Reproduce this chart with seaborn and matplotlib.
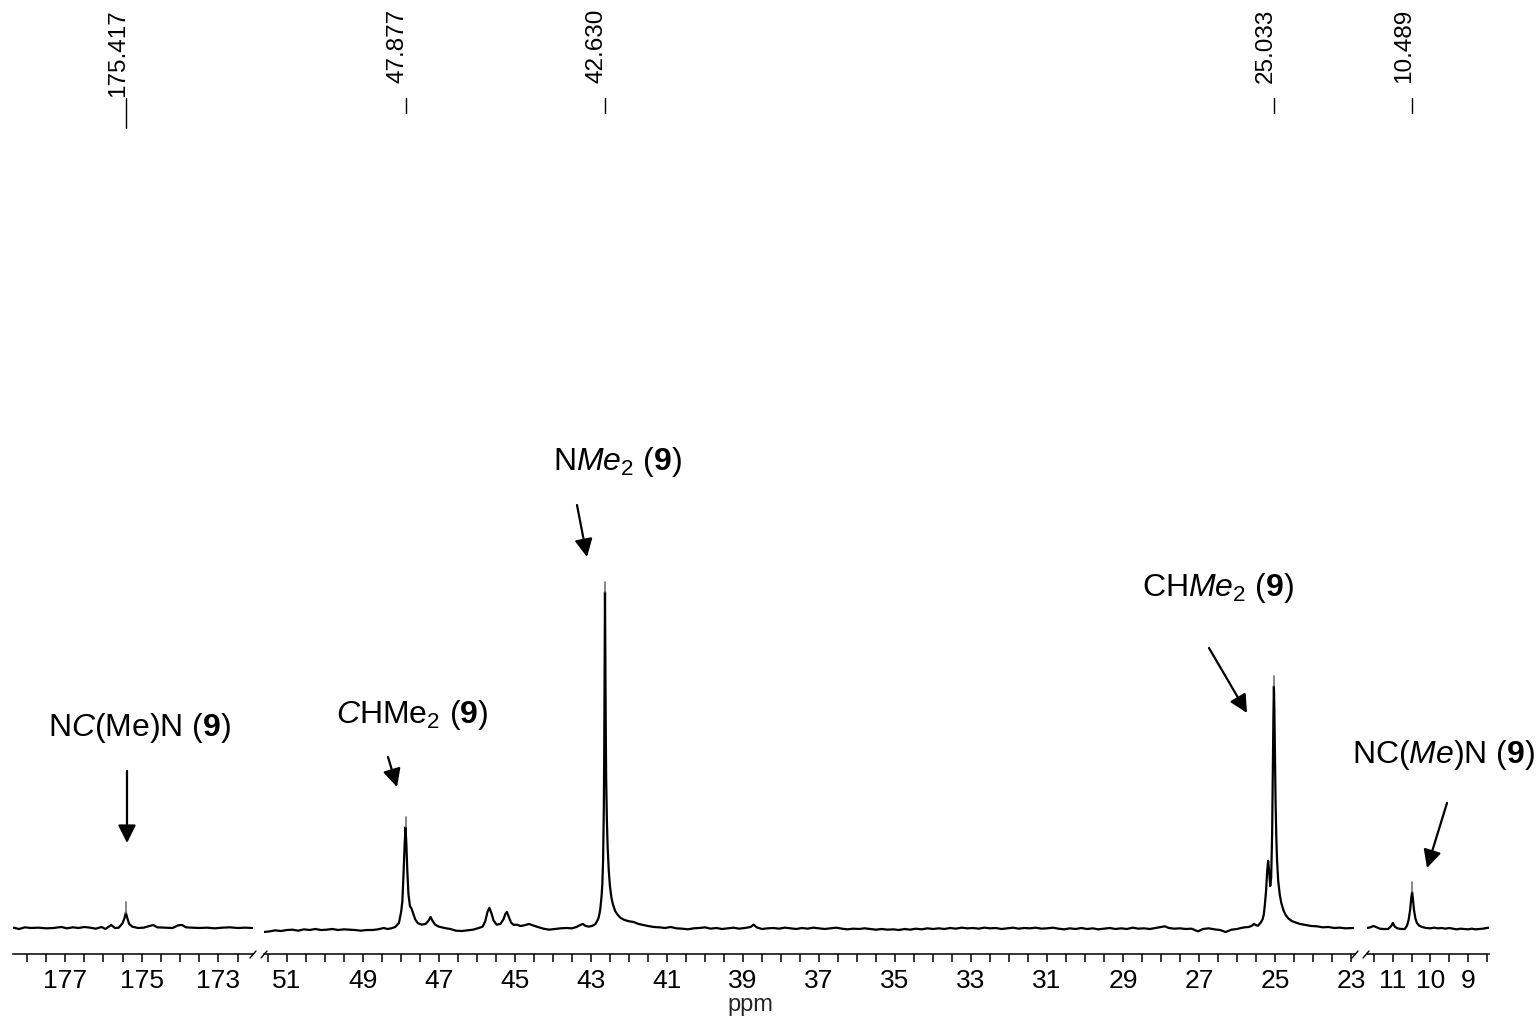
import numpy as np
import matplotlib
matplotlib.use("Agg")
import matplotlib.pyplot as plt
import matplotlib.transforms as mtransforms
from matplotlib.lines import Line2D
import seaborn as sns

# ---------------- data ----------------
left_ppm = [178.35, 178.2, 178.05, 177.9, 177.7, 177.5, 177.3, 177.1, 176.95, 176.8,
            176.65, 176.5, 176.35, 176.2, 176.05, 175.95, 175.8, 175.7, 175.6, 175.5,
            175.45, 175.417, 175.38, 175.33, 175.25, 175.1, 174.95, 174.8, 174.7, 174.6,
            174.4, 174.2, 174.05, 173.95, 173.85, 173.7, 173.5, 173.3, 173.1, 172.9,
            172.7, 172.5, 172.3, 172.12]
left_int = [0.1, -0.3, 0.2, 0.0, 0.1, -0.1, 0.0, 0.3, -0.1, 0.2,
            0.0, 0.3, 0.1, -0.2, 0.3, -0.3, 0.9, 0.0, 0.1, 1.5,
            3.0, 4.6, 3.0, 1.2, 0.4, 0.0, 0.1, 0.6, 0.9, 0.2,
            0.1, 0.0, 0.8, 0.9, 0.2, 0.1, 0.0, 0.1, -0.1, 0.1,
            0.2, 0.0, 0.1, 0.0]

mid_ppm = [51.60, 51.45, 51.30, 51.15, 51.00, 50.85, 50.70, 50.55, 50.40, 50.25,
           50.10, 49.95, 49.80, 49.65, 49.50, 49.35, 49.20, 49.05, 48.90, 48.75,
           48.60, 48.45, 48.35, 48.25, 48.15, 48.05, 47.99, 47.96, 47.93, 47.90,
           47.877, 47.855, 47.83, 47.80, 47.76, 47.72, 47.68, 47.62, 47.55, 47.45,
           47.35, 47.27, 47.22, 47.17, 47.10, 47.00, 46.85, 46.70, 46.55, 46.40,
           46.25, 46.10, 45.95, 45.85, 45.78, 45.72, 45.67, 45.62, 45.56, 45.48,
           45.38, 45.30, 45.25, 45.21, 45.16, 45.10, 45.03, 44.95, 44.85, 44.75,
           44.63, 44.50, 44.40, 44.25, 44.10, 43.95, 43.80, 43.65, 43.50, 43.38,
           43.28, 43.21, 43.14, 43.05, 42.95, 42.88, 42.83, 42.80, 42.77, 42.75,
           42.72, 42.70, 42.68, 42.66, 42.65, 42.64, 42.63, 42.62, 42.61, 42.60,
           42.58, 42.56, 42.53, 42.50, 42.46, 42.42, 42.36, 42.30, 42.22, 42.12,
           42.00, 41.88, 41.75, 41.63, 41.50, 41.35, 41.20, 41.05, 40.90, 40.75,
           40.60, 40.45, 40.30, 40.15, 40.00, 39.85, 39.70, 39.55, 39.40, 39.25,
           39.10, 38.95, 38.80, 38.72, 38.64, 38.50, 38.35, 38.20, 38.05, 37.90,
           37.75, 37.60, 37.45, 37.30, 37.15, 37.00, 36.85, 36.70, 36.55, 36.40,
           36.25, 36.10, 35.95, 35.80, 35.65, 35.50, 35.35, 35.20, 35.05, 34.90,
           34.75, 34.60, 34.45, 34.30, 34.15, 34.00, 33.85, 33.70, 33.55, 33.40,
           33.25, 33.10, 32.95, 32.80, 32.65, 32.50, 32.35, 32.20, 32.05, 31.90,
           31.75, 31.60, 31.45, 31.30, 31.15, 31.00, 30.85, 30.70, 30.55, 30.40,
           30.25, 30.10, 29.95, 29.80, 29.65, 29.50, 29.35, 29.20, 29.05, 28.90,
           28.75, 28.60, 28.45, 28.30, 28.15, 28.00, 27.90, 27.80, 27.65, 27.50,
           27.35, 27.20, 27.03, 26.90, 26.75, 26.60, 26.45, 26.30, 26.15, 26.00,
           25.90, 25.80, 25.70, 25.62, 25.56, 25.50, 25.45, 25.38, 25.33, 25.30,
           25.27, 25.24, 25.21, 25.185, 25.16, 25.13, 25.105, 25.08, 25.06, 25.045,
           25.033, 25.02, 25.005, 24.99, 24.97, 24.95, 24.92, 24.88, 24.84, 24.78,
           24.72, 24.65, 24.55, 24.45, 24.35, 24.20, 24.05, 23.90, 23.75, 23.60,
           23.45, 23.30, 23.15, 22.95]
mid_int = [-1.2, -1.0, -0.7, -0.9, -0.6, -0.5, -0.8, -0.4, -0.6, -0.3,
           -0.6, -0.5, -0.3, -0.6, -0.4, -0.5, -0.6, -0.8, -0.6, -0.6,
           -0.4, 0.0, -0.3, -0.1, 0.3, 1.5, 5.0, 8.0, 16.0, 25.0,
           30.0, 25.0, 17.0, 10.0, 6.5, 5.8, 4.5, 2.5, 1.4, 1.0,
           1.2, 2.2, 3.3, 2.2, 1.0, 0.4, 0.0, -0.3, -0.8, -0.9,
           -0.7, -0.5, 0.0, 0.4, 2.0, 4.8, 6.0, 4.5, 2.2, 1.0,
           1.2, 2.6, 4.2, 4.8, 3.3, 1.6, 0.9, 1.0, 0.6, 0.8,
           1.2, 0.7, 0.3, -0.2, -0.5, -0.3, -0.1, 0.0, -0.1, 0.3,
           0.9, 1.2, 0.6, 0.4, 0.7, 1.2, 2.2, 3.0, 4.5, 6.0,
           9.5, 13.0, 20.0, 36.0, 52.0, 75.0, 100.0, 78.0, 60.0, 45.0,
           32.0, 24.0, 17.0, 12.5, 9.0, 7.0, 5.0, 4.0, 3.0, 2.4,
           2.0, 1.8, 1.2, 0.9, 0.6, 0.3, 0.2, 0.0, 0.3, -0.1,
           -0.2, -0.4, -0.1, 0.0, 0.2, -0.2, 0.0, -0.3, -0.1, 0.1,
           -0.2, 0.0, 0.3, 1.0, 0.2, -0.3, -0.1, 0.0, -0.2, 0.1,
           -0.1, -0.3, 0.0, -0.2, 0.1, -0.1, -0.3, -0.1, 0.1, -0.2,
           -0.4, -0.2, -0.3, -0.1, -0.3, -0.5, -0.3, -0.5, -0.4, -0.6,
           -0.3, -0.5, -0.2, -0.4, -0.1, -0.3, -0.1, -0.3, 0.0, -0.2,
           0.1, -0.1, 0.0, -0.2, 0.1, -0.1, 0.0, -0.3, -0.1, 0.1,
           -0.2, 0.0, -0.1, 0.1, -0.2, -0.1, 0.1, -0.2, -0.4, -0.1,
           -0.3, 0.0, -0.3, -0.1, -0.4, -0.2, 0.0, -0.3, -0.1, -0.3,
           0.1, -0.2, -0.1, -0.3, 0.0, 0.3, 0.5, 0.0, -0.2, -0.1,
           -0.3, -0.2, -1.0, -0.3, -0.1, -0.4, -0.6, -1.2, -0.5, -0.3,
           0.0, 0.2, 0.3, 0.6, 1.2, 0.8, 0.7, 1.6, 2.6, 4.0,
           7.0, 11.0, 17.0, 20.0, 17.0, 12.5, 15.0, 28.0, 48.0, 64.0,
           72.0, 64.0, 50.0, 38.0, 27.0, 20.0, 14.0, 10.0, 7.5, 5.2,
           3.8, 2.8, 2.0, 1.6, 1.2, 0.9, 0.6, 0.5, 0.2, 0.3,
           0.0, 0.1, -0.1, 0.0]

right_ppm = [11.69, 11.60, 11.52, 11.45, 11.35, 11.25, 11.13, 11.05, 11.00, 10.95,
             10.88, 10.78, 10.68, 10.62, 10.58, 10.54, 10.51, 10.489, 10.47, 10.44,
             10.40, 10.36, 10.30, 10.22, 10.12, 10.00, 9.90, 9.80, 9.70, 9.60,
             9.50, 9.40, 9.30, 9.20, 9.10, 9.00, 8.90, 8.80, 8.70, 8.60,
             8.50, 8.44]
right_int = [0.0, 0.2, 0.6, 0.3, -0.2, -0.3, -0.3, 0.5, 1.5, 0.4,
             -0.1, -0.3, -0.3, 0.8, 2.5, 5.5, 9.0, 10.7, 9.0, 5.5,
             2.8, 1.5, 0.7, 0.3, 0.0, -0.1, 0.1, -0.1, 0.0, -0.2,
             0.0, -0.2, -0.4, -0.2, -0.3, -0.4, -0.2, -0.4, -0.3, -0.2,
             0.0, 0.1]

# picked peaks (labels at top)
peak_ppm = [175.417, 47.877, 42.630, 25.033, 10.489]
peak_labels = ["175.417", "47.877", "42.630", "25.033", "10.489"]
peak_segment = [0, 1, 1, 1, 2]

# tick labels per segment
left_ticklabels = [177, 175, 173]
mid_ticklabels = [51, 49, 47, 45, 43, 41, 39, 37, 35, 33, 31, 29, 27, 25, 23]
right_ticklabels = [11, 10, 9]

# assignments
assign_texts = [r"N$\mathit{C}$(Me)N ($\mathbf{9}$)",
                r"$\mathit{C}$HMe$_2$ ($\mathbf{9}$)",
                r"N$\mathit{Me}_{\mathit{2}}$ ($\mathbf{9}$)",
                r"CH$\mathit{Me}_{\mathit{2}}$ ($\mathbf{9}$)",
                r"NC($\mathit{Me}$)N ($\mathbf{9}$)"]

# ---------------- style ----------------
sns.set_style("white")
plt.rcParams['font.family'] = ['Liberation Sans', 'DejaVu Sans']
plt.rcParams['mathtext.fontset'] = 'custom'
plt.rcParams['mathtext.rm'] = 'Liberation Sans'
plt.rcParams['mathtext.it'] = 'Liberation Sans:italic'
plt.rcParams['mathtext.bf'] = 'Liberation Sans:bold'

W, H = 1540, 1022
fig = plt.figure(figsize=(W / 100, H / 100), dpi=100)
fig.patch.set_facecolor('white')

def fx(px):
    return px / W

def fy(py):
    return 1 - py / H

AXIS_Y = 954
YMIN, YMAX = -7.74, 276.2

segments = [
    dict(ppm=left_ppm, inten=left_int, x0=13, x1=253, xlim=(178.36, 172.10),
         tick_lo=172.5, tick_hi=178.0, labels=left_ticklabels),
    dict(ppm=mid_ppm, inten=mid_int, x0=264, x1=1355, xlim=(51.60, 22.90),
         tick_lo=23.0, tick_hi=51.5, labels=mid_ticklabels),
    dict(ppm=right_ppm, inten=right_int, x0=1367, x1=1489, xlim=(11.69, 8.44),
         tick_lo=8.5, tick_hi=11.5, labels=right_ticklabels),
]

axes = []
for seg in segments:
    ax = fig.add_axes([fx(seg['x0']), fy(AXIS_Y), fx(seg['x1'] - seg['x0']), AXIS_Y / H])
    ax.set_facecolor('none')
    sns.lineplot(x=seg['ppm'], y=seg['inten'], ax=ax, color='black', linewidth=1.6,
                 sort=False, estimator=None)
    ticks = np.arange(seg['tick_lo'], seg['tick_hi'] + 0.01, 0.5)
    labs = [str(int(round(t))) if any(abs(t - l) < 1e-6 for l in seg['labels']) else ''
            for t in ticks]
    ax.set_xticks(ticks)
    ax.set_xticklabels(labs)
    ax.tick_params(axis='x', direction='out', length=5.5, width=1.1, pad=5.5,
                   labelsize=19, bottom=True, colors='black')
    ax.tick_params(axis='y', left=False, labelleft=False)
    for s in ['left', 'right', 'top']:
        ax.spines[s].set_visible(False)
    ax.spines['bottom'].set_color('black')
    ax.spines['bottom'].set_linewidth(1.1)
    ax.set_xlabel('')
    ax.set_ylabel('')
    axes.append(ax)

# peak labels and pick markers
for p, lab, si in zip(peak_ppm, peak_labels, peak_segment):
    ax = axes[si]
    seg = segments[si]
    pp = np.array(seg['ppm'])
    ii = np.array(seg['inten'])
    h = ii[np.argmin(np.abs(pp - p))]
    ax.plot([p, p], [h, h + 3.0], color='0.45', lw=1.2, clip_on=False)
    trans = mtransforms.blended_transform_factory(ax.transData, fig.transFigure)
    ttrans = mtransforms.offset_copy(trans, fig=fig, x=-8, y=0, units='dots')
    ax.text(p, fy(9), lab, rotation=90, ha='center', va='top', fontsize=17.5,
            transform=ttrans, color='black')
    bottom = 128 if p > 100 else 113
    ax.plot([p, p], [fy(98), fy(bottom)], color='black', lw=1.0, transform=trans,
            clip_on=False)

for ax, seg in zip(axes, segments):
    ax.set_xlim(*seg['xlim'])
    ax.set_ylim(YMIN, YMAX)

# axis break marks
for x in [250, 261, 1352, 1363]:
    fig.add_artist(Line2D([fx(x), fx(x + 6)], [fy(958), fy(951)], color='black', lw=1.0))

# x-axis title
fig.text(fx(750), fy(1005), 'ppm', ha='center', va='center', fontsize=17)

# assignment texts and arrows
text_pos = [(140, 728), (412, 715), (617, 462), (1218, 588), (1444, 755)]
arrow_from = [(127, 771), (388, 757), (577, 505), (1209, 648), (1447, 803)]
arrow_to = [(127, 843), (397, 787), (587, 557), (1247, 713), (1427, 868)]
for t, (tx, ty) in zip(assign_texts, text_pos):
    fig.text(fx(tx), fy(ty), t, ha='center', va='center', fontsize=23, color='black')
for (x0, y0), (x1, y1) in zip(arrow_from, arrow_to):
    fig.add_artist(matplotlib.patches.FancyArrowPatch(
        (fx(x0), fy(y0)), (fx(x1), fy(y1)), transform=fig.transFigure,
        arrowstyle='-|>', mutation_scale=27, lw=1.6, color='black',
        shrinkA=0, shrinkB=0))

fig.savefig('out.png', dpi=100, facecolor='white')
